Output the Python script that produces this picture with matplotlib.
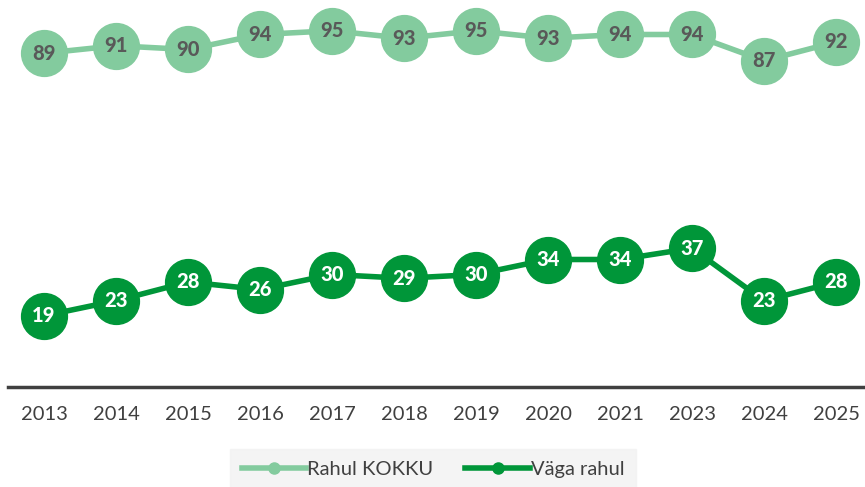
import matplotlib
matplotlib.use("Agg")
import matplotlib.pyplot as plt
from matplotlib.lines import Line2D

years = ["2013", "2014", "2015", "2016", "2017", "2018", "2019", "2020", "2021", "2023", "2024", "2025"]
rahul_kokku = [89, 91, 90, 94, 95, 93, 95, 93, 94, 94, 87, 92]
vaga_rahul = [19, 23, 28, 26, 30, 29, 30, 34, 34, 37, 23, 28]

light = "#83CB9E"
dark = "#009639"
font = "Lato"

W, H = 865, 487
fig = plt.figure(figsize=(W / 100, H / 100), dpi=100)
ax = fig.add_axes([8 / W, (H - 387) / H, 864 / W, 375 / H])
x = list(range(len(years)))

ax.plot(x, rahul_kokku, color=light, lw=4, marker="o", ms=33, mec=light, mfc=light,
        label="Rahul KOKKU", clip_on=False, zorder=3)
ax.plot(x, vaga_rahul, color=dark, lw=4, marker="o", ms=33, mec=dark, mfc=dark,
        label="Väga rahul", clip_on=False, zorder=3)

for xi, v in zip(x, rahul_kokku):
    ax.text(xi, v, str(v), ha="center", va="center", fontsize=14.5, fontweight="black",
            color="#595959", family=font, zorder=4)
for xi, v in zip(x, vaga_rahul):
    ax.text(xi, v, str(v), ha="center", va="center", fontsize=14.5, fontweight="black",
            color="white", family=font, zorder=4)

ax.set_xlim(-0.5, len(years) - 0.5)
ax.set_ylim(0, 100)
ax.set_xticks(x)
ax.set_xticklabels(years, fontsize=14.5, color="#404040", family=font)
ax.tick_params(axis="x", length=0, pad=14)
ax.set_yticks([])
for s in ["top", "left", "right"]:
    ax.spines[s].set_visible(False)
ax.spines["bottom"].set_color("#404040")
ax.spines["bottom"].set_linewidth(2.5)

handles = [Line2D([], [], color=light, lw=4, marker="o", ms=8),
           Line2D([], [], color=dark, lw=4, marker="o", ms=8)]
leg = fig.legend(handles, ["Rahul KOKKU", "Väga rahul"], loc="center",
                 bbox_to_anchor=(433 / W, (H - 469) / H), ncol=2, frameon=True,
                 prop={"family": font, "size": 14.5}, handlelength=3.2,
                 columnspacing=1.6, handletextpad=0.05, borderpad=0.55, borderaxespad=0)
leg.get_frame().set_facecolor("#F2F2F2")
leg.get_frame().set_edgecolor("#F2F2F2")
leg.get_frame().set_boxstyle("square", pad=0)
for t in leg.get_texts():
    t.set_color("#404040")

fig.savefig("out.png", dpi=100)
